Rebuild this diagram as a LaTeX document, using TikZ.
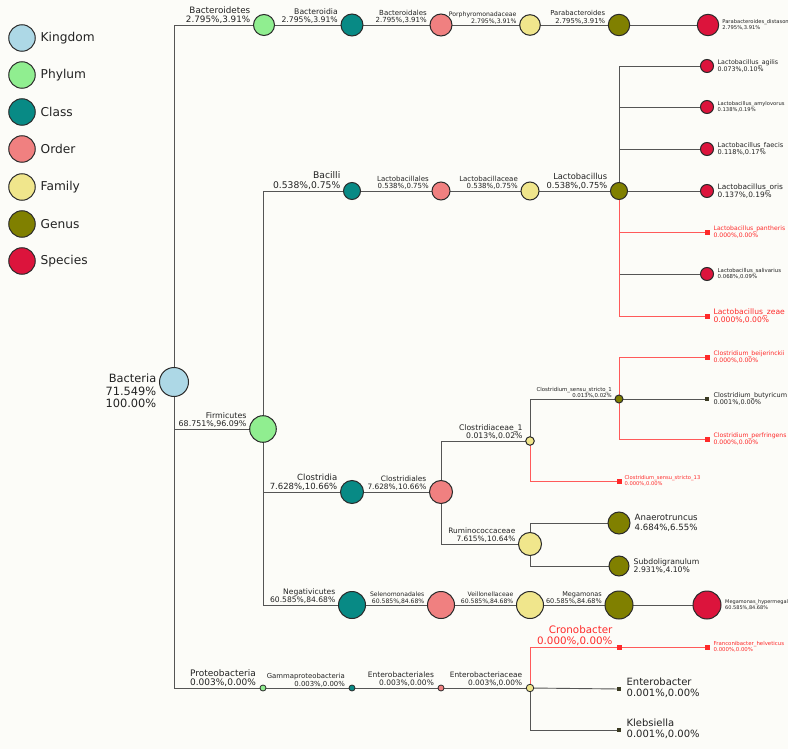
\documentclass[tikz,border=0pt]{standalone}
\usepackage{fontspec}
\setmainfont{DejaVu Sans}
\pgfdeclarelayer{back}
\pgfdeclarelayer{bg}
\pgfsetlayers{back,bg,main}
\definecolor{ckingdom}{HTML}{ADD8E6}
\definecolor{cphylum}{HTML}{90EE90}
\definecolor{cclass}{HTML}{088A85}
\definecolor{corder}{HTML}{F08080}
\definecolor{cfamily}{HTML}{F0E68C}
\definecolor{cgenus}{HTML}{808000}
\definecolor{cspecies}{HTML}{DC143C}
\definecolor{outl}{HTML}{2A2A2A}
\definecolor{lin}{HTML}{555555}
\definecolor{rlin}{HTML}{FF5A5A}
\definecolor{rtxt}{HTML}{FF2A2A}
\definecolor{txt}{HTML}{222222}
\definecolor{paper}{HTML}{FCFCF8}
\definecolor{dleaf}{HTML}{3A3A22}
\newcommand\fz[1]{\fontsize{#1}{\dimexpr#1pt*108/100\relax}\selectfont}
\tikzset{
  x=1pt, y=-1pt,
  circ/.style={circle, draw=outl, line width=1pt, inner sep=0pt, minimum size=#1},
  kd/.style={circ=#1, fill=ckingdom},
  ph/.style={circ=#1, fill=cphylum},
  cl/.style={circ=#1, fill=cclass},
  od/.style={circ=#1, fill=corder},
  fm/.style={circ=#1, fill=cfamily},
  gn/.style={circ=#1, fill=cgenus},
  sp/.style={circ=#1, fill=cspecies},
  rleaf/.style={rectangle, fill=rtxt, draw=rtxt, line width=0.3pt, inner sep=0pt, minimum size=3.5pt},
  dkleaf/.style={rectangle, fill=dleaf, inner sep=0pt, minimum size=3.5pt},
  tx/.style={inner sep=0.5pt, text=txt},
  L/.style={tx, anchor=south east, align=right},
  R/.style={tx, anchor=west, align=left},
  rd/.style={text=rtxt},
  con/.style={draw=lin, line width=0.9pt},
  rcon/.style={draw=rlin, line width=0.9pt},
  lgt/.style={tx, anchor=west, font=\fz{12.2}}
}
\begin{document}
\begin{tikzpicture}
\begin{pgfonlayer}{back}
\fill[paper] (0,0) rectangle (788,749);
\end{pgfonlayer}
\useasboundingbox (0,0) rectangle (788,749);

% legend
\node[kd=26.5] (lgK) at (22,38) {};
\node[lgt] (lgKt) at (40,38) {Kingdom};
\node[ph=26.5] (lgP) at (22,75) {};
\node[lgt] (lgPt) at (40,75) {Phylum};
\node[cl=26.5] (lgC) at (22,112) {};
\node[lgt] (lgCt) at (40,112) {Class};
\node[od=26.5] (lgO) at (22,149) {};
\node[lgt] (lgOt) at (40,149) {Order};
\node[fm=26.5] (lgF) at (22,187) {};
\node[lgt] (lgFt) at (40,187) {Family};
\node[gn=26.5] (lgG) at (22,224) {};
\node[lgt] (lgGt) at (40,224) {Genus};
\node[sp=26.5] (lgS) at (22,261) {};
\node[lgt] (lgSt) at (40,261) {Species};

% root
\node[kd=29] (root) at (174,382) {};
\node[tx, anchor=east, align=right, font=\fz{11.4}] (rootL) at (157,391) {Bacteria\\71.549\%\\100.00\%};

% Bacteroidetes row
\node[ph=21] (bdt) at (264,25) {};
\node[cl=22] (bdi) at (352,25) {};
\node[od=22] (bdl) at (441,25) {};
\node[fm=20.6] (por) at (530,25) {};
\node[gn=21.4] (par) at (619,25) {};
\node[sp=21.4] (pdi) at (708,25) {};
\node[L, font=\fz{8.8}] (bdtL) at ([xshift=-2pt,yshift=0.5pt]bdt.west) {Bacteroidetes\\2.795\%,3.91\%};
\node[L, font=\fz{7.7}] (bdiL) at ([xshift=-2pt,yshift=0.5pt]bdi.west) {Bacteroidia\\2.795\%,3.91\%};
\node[L, font=\fz{7}] (bdlL) at ([xshift=-2pt,yshift=0.5pt]bdl.west) {Bacteroidales\\2.795\%,3.91\%};
\node[L, font=\fz{6.2}] (porL) at ([xshift=-2pt,yshift=0.5pt]por.west) {Porphyromonadaceae\\2.795\%,3.91\%};
\node[L, font=\fz{6.8}] (parL) at ([xshift=-2pt,yshift=0.5pt]par.west) {Parabacteroides\\2.795\%,3.91\%};
\node[R, font=\fz{5.2}] (pdiL) at ([xshift=2.5pt]pdi.east) {Parabacteroides\_distasonis\\2.795\%,3.91\%};

% Firmicutes
\node[ph=26.6] (fir) at (263,429) {};
\node[L, font=\fz{7.9}] (firL) at ([xshift=-2pt,yshift=0.5pt]fir.west) {Firmicutes\\68.751\%,96.09\%};

% Bacilli branch
\node[cl=17] (bac) at (352,191) {};
\node[od=18] (lal) at (441,191) {};
\node[fm=18] (lac) at (530,191) {};
\node[gn=17] (lab) at (619,191) {};
\node[L, font=\fz{9.2}] (bacL) at ([xshift=-2pt,yshift=0.5pt]bac.west) {Bacilli\\0.538\%,0.75\%};
\node[L, font=\fz{7}] (lalL) at ([xshift=-2pt,yshift=0.5pt]lal.west) {Lactobacillales\\0.538\%,0.75\%};
\node[L, font=\fz{7}] (lacL) at ([xshift=-2pt,yshift=0.5pt]lac.west) {Lactobacillaceae\\0.538\%,0.75\%};
\node[L, font=\fz{8.3}] (labL) at ([xshift=-2pt,yshift=0.5pt]lab.west) {Lactobacillus\\0.538\%,0.75\%};

\node[sp=13] (lag) at (707,66) {};
\node[sp=13] (lam) at (707,107) {};
\node[sp=13] (lfa) at (707,149) {};
\node[sp=13] (lor) at (707,191) {};
\node[rleaf] (lpa) at (707,232) {};
\node[sp=13] (lsa) at (707,274) {};
\node[rleaf] (lze) at (707,316) {};
\node[R, font=\fz{6.3}] (lagL) at ([xshift=3pt]lag.east) {Lactobacillus\_agilis\\0.073\%,0.10\%};
\node[R, font=\fz{5.2}] (lamL) at ([xshift=3pt]lam.east) {Lactobacillus\_amylovorus\\0.138\%,0.19\%};
\node[R, font=\fz{6.6}] (lfaL) at ([xshift=3pt]lfa.east) {Lactobacillus\_faecis\\0.118\%,0.17\%};
\node[R, font=\fz{7.4}] (lorL) at ([xshift=3pt]lor.east) {Lactobacillus\_oris\\0.137\%,0.19\%};
\node[R, rd, font=\fz{6.1}] (lpaL) at ([xshift=4pt]lpa.east) {Lactobacillus\_pantheris\\0.000\%,0.00\%};
\node[R, font=\fz{5.4}] (lsaL) at ([xshift=3pt]lsa.east) {Lactobacillus\_salivarius\\0.068\%,0.09\%};
\node[R, rd, font=\fz{7.6}] (lzeL) at ([xshift=4pt]lze.east) {Lactobacillus\_zeae\\0.000\%,0.00\%};

% Clostridia branch
\node[cl=23] (cla) at (352,492) {};
\node[od=23] (cll) at (441,492) {};
\node[fm=8.6] (cl1) at (530,441) {};
\node[fm=23] (rum) at (530,544) {};
\node[L, font=\fz{8.5}] (claL) at ([xshift=-2pt,yshift=0.5pt]cla.west) {Clostridia\\7.628\%,10.66\%};
\node[L, font=\fz{7.4}] (cllL) at ([xshift=-2pt,yshift=0.5pt]cll.west) {Clostridiales\\7.628\%,10.66\%};
\node[L, font=\fz{7.7}] (cl1L) at ([xshift=-2pt,yshift=0.5pt]cl1.west) {Clostridiaceae\_1\\0.013\%,0.02\%};
\node[L, font=\fz{7.4}] (rumL) at ([xshift=-2pt,yshift=0.5pt]rum.west) {Ruminococcaceae\\7.615\%,10.64\%};

\node[gn=8] (cs1) at (619,399) {};
\node[rleaf] (cs13) at (619,481) {};
\node[L, font=\fz{5.4}] (cs1L) at ([xshift=-2pt,yshift=0.5pt]cs1.west) {Clostridium\_sensu\_stricto\_1\\0.013\%,0.02\%};
\node[R, rd, font=\fz{5.2}] (cs13L) at ([xshift=3pt]cs13.east) {Clostridium\_sensu\_stricto\_13\\0.000\%,0.00\%};
\node[rleaf] (cbe) at (707,357) {};
\node[dkleaf] (cbu) at (707,399) {};
\node[rleaf] (cpe) at (707,439) {};
\node[R, rd, font=\fz{6.1}] (cbeL) at ([xshift=4pt]cbe.east) {Clostridium\_beijerinckii\\0.000\%,0.00\%};
\node[R, font=\fz{6.5}] (cbuL) at ([xshift=4pt]cbu.east) {Clostridium\_butyricum\\0.001\%,0.00\%};
\node[R, rd, font=\fz{6.1}] (cpeL) at ([xshift=4pt]cpe.east) {Clostridium\_perfringens\\0.000\%,0.00\%};

\node[gn=22] (ana) at (619,523) {};
\node[gn=20] (sub) at (619,566) {};
\node[R, font=\fz{8.6}] (anaL) at ([xshift=3.5pt]ana.east) {Anaerotruncus\\4.684\%,6.55\%};
\node[R, font=\fz{7.7}] (subL) at ([xshift=3.5pt]sub.east) {Subdoligranulum\\2.931\%,4.10\%};

% Negativicutes branch
\node[cl=27] (neg) at (352,605) {};
\node[od=27] (sel) at (441,605) {};
\node[fm=27] (vei) at (530,605) {};
\node[gn=28] (meg) at (619,605) {};
\node[sp=28] (mhy) at (707,605) {};
\node[L, font=\fz{7.6}] (negL) at ([xshift=-2pt,yshift=0.5pt]neg.west) {Negativicutes\\60.585\%,84.68\%};
\node[L, font=\fz{6.1}] (selL) at ([xshift=-2pt,yshift=0.5pt]sel.west) {Selenomonadales\\60.585\%,84.68\%};
\node[L, font=\fz{6.1}] (veiL) at ([xshift=-2pt,yshift=0.5pt]vei.west) {Veillonellaceae\\60.585\%,84.68\%};
\node[L, font=\fz{6.5}] (megL) at ([xshift=-2pt,yshift=0.5pt]meg.west) {Megamonas\\60.585\%,84.68\%};
\node[R, font=\fz{5}] (mhyL) at ([xshift=3pt]mhy.east) {Megamonas\_hypermegale\\60.585\%,84.68\%};

% Proteobacteria branch
\node[ph=6, line width=0.8pt] (pro) at (263,688) {};
\node[cl=6, line width=0.8pt] (gam) at (352,688) {};
\node[od=6, line width=0.8pt] (ent) at (441,688) {};
\node[fm=7.5, line width=0.8pt] (enc) at (530,688) {};
\node[L, font=\fz{9}] (proL) at ([xshift=-3pt,yshift=0.5pt]pro.west) {Proteobacteria\\0.003\%,0.00\%};
\node[L, font=\fz{6.9}] (gamL) at ([xshift=-3pt,yshift=0.5pt]gam.west) {Gammaproteobacteria\\0.003\%,0.00\%};
\node[L, font=\fz{7.5}] (entL) at ([xshift=-3pt,yshift=0.5pt]ent.west) {Enterobacteriales\\0.003\%,0.00\%};
\node[L, font=\fz{7.4}] (encL) at ([xshift=-3pt,yshift=0.5pt]enc.west) {Enterobacteriaceae\\0.003\%,0.00\%};

\node[rleaf] (cro) at (619,647) {};
\node[rleaf] (fra) at (707,647) {};
\node[dkleaf] (enb) at (619,689) {};
\node[dkleaf] (kle) at (619,730) {};
\node[L, rd, font=\fz{10.3}] (croL) at ([xshift=-4pt,yshift=0.5pt]cro.west) {Cronobacter\\0.000\%,0.00\%};
\node[R, rd, font=\fz{5.4}] (fraL) at ([xshift=4pt]fra.east) {Franconibacter\_helveticus\\0.000\%,0.00\%};
\node[R, font=\fz{10}] (enbL) at ([xshift=5pt,yshift=1.5pt]enb.east) {Enterobacter\\0.001\%,0.00\%};
\node[R, font=\fz{10}] (kleL) at ([xshift=5pt,yshift=1.5pt]kle.east) {Klebsiella\\0.001\%,0.00\%};

% connectors
\begin{pgfonlayer}{bg}
\draw[con] (root.center) |- (bdt.center);
\draw[con] (root.center) |- (fir.center);
\draw[con] (root.center) |- (pro.center);
\draw[con] (bdt.center) -- (bdi.center);
\draw[con] (bdi.center) -- (bdl.center);
\draw[con] (bdl.center) -- (por.center);
\draw[con] (por.center) -- (par.center);
\draw[con] (par.center) -- (pdi.center);
\draw[con] (fir.center) |- (bac.center);
\draw[con] (fir.center) |- (cla.center);
\draw[con] (fir.center) |- (neg.center);
\draw[con] (bac.center) -- (lal.center);
\draw[con] (lal.center) -- (lac.center);
\draw[con] (lac.center) -- (lab.center);
\draw[con] (lab.center) |- (lag.center);
\draw[con] (lab.center) |- (lam.center);
\draw[con] (lab.center) |- (lfa.center);
\draw[con] (lab.center) -- (lor.center);
\draw[con] (lab.center) |- (lsa.center);
\draw[rcon] (lab.center) |- (lpa.center);
\draw[rcon] (lab.center) |- (lze.center);
\draw[con] (cla.center) -- (cll.center);
\draw[con] (cll.center) |- (cl1.center);
\draw[con] (cll.center) |- (rum.center);
\draw[con] (cl1.center) |- (cs1.center);
\draw[rcon] (cl1.center) |- (cs13.center);
\draw[con] (cs1.center) -- (cbu.center);
\draw[rcon] (cs1.center) |- (cbe.center);
\draw[rcon] (cs1.center) |- (cpe.center);
\draw[con] (rum.center) |- (ana.center);
\draw[con] (rum.center) |- (sub.center);
\draw[con] (neg.center) -- (sel.center);
\draw[con] (sel.center) -- (vei.center);
\draw[con] (vei.center) -- (meg.center);
\draw[con] (meg.center) -- (mhy.center);
\draw[con] (pro.center) -- (gam.center);
\draw[con] (gam.center) -- (ent.center);
\draw[con] (ent.center) -- (enc.center);
\draw[con] (enc.center) -- (enb.center);
\draw[con] (enc.center) |- (kle.center);
\draw[rcon] (enc.center) |- (cro.center);
\draw[rcon] (cro.center) -- (fra.center);
\end{pgfonlayer}
\end{tikzpicture}
\end{document}
